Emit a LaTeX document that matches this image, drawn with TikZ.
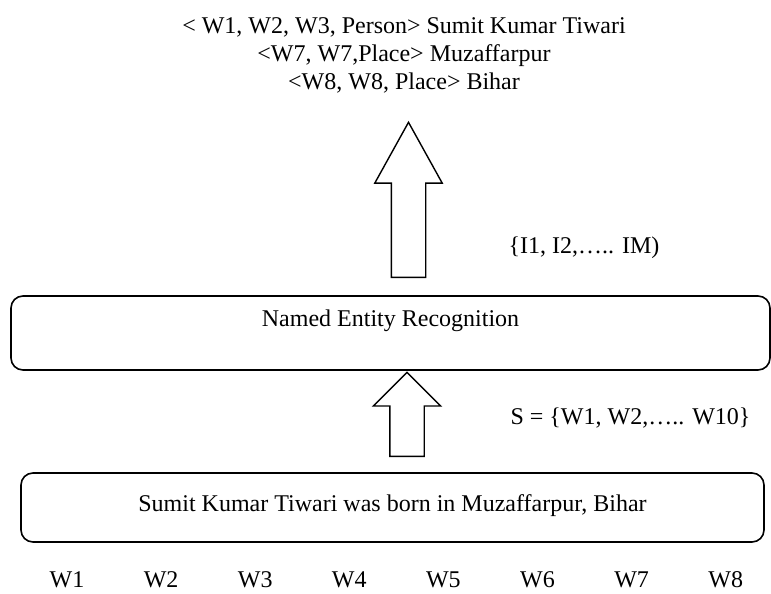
\documentclass[tikz,border=0pt]{standalone}
\usepackage{fontspec}
\setmainfont{Liberation Serif}
\usetikzlibrary{shapes.arrows, positioning}

\begin{document}
\begin{tikzpicture}[
    x=1pt, y=-1pt,
    every node/.style={font=\fontsize{24}{28}\selectfont},
    stage/.style={draw, line width=1.6pt, rounded corners=12pt, text height=16pt},
    flow/.style={draw, line width=1.4pt, single arrow, rotate=90, anchor=tail, inner sep=0pt, inner ysep=16.5pt, minimum width=66pt, single arrow head extend=16.5pt},
    tag/.style={anchor=base, inner sep=1pt}
]
    \useasboundingbox (0, 0) rectangle (771, 594);

    % Recognised entities (top)
    \node[tag] (ent1) at (404, 34) {< W1, W2, W3, Person> Sumit Kumar Tiwari};
    \node[tag] (ent2) at (404, 61.5) {<W7, W7,Place> Muzaffarpur};
    \node[tag] (ent3) at (404, 89) {<W8, W8, Place> Bihar};

    % Block arrows
    \node[flow, minimum height=155pt, single arrow tip angle=58] (upout) at (408.5, 278) {};
    \node[flow, minimum height=84pt] (upin) at (407, 457) {};

    % Stages
    \node[stage, minimum width=759pt, minimum height=74pt, text depth=30pt] (ner) at (390.5, 333) {Named Entity Recognition};
    \node[stage, minimum width=743pt, minimum height=69pt, text depth=9pt] (sent) at (392.5, 507.5) {Sumit Kumar Tiwari was born in Muzaffarpur, Bihar};

    % Labels
    \node[anchor=base west] (ilab) at (505, 253) {\{I1, I2,….. IM)};
    \node[anchor=base east] (slab) at (754, 424) {S = \{W1, W2,….. W10\}};

    % Word positions
    \foreach \i in {1,...,8}
        \node[tag, inner sep=0pt, text depth=0pt] (w\i) at ({67 + 94.1*(\i-1)}, 587) {W\i};

\end{tikzpicture}
\end{document}
